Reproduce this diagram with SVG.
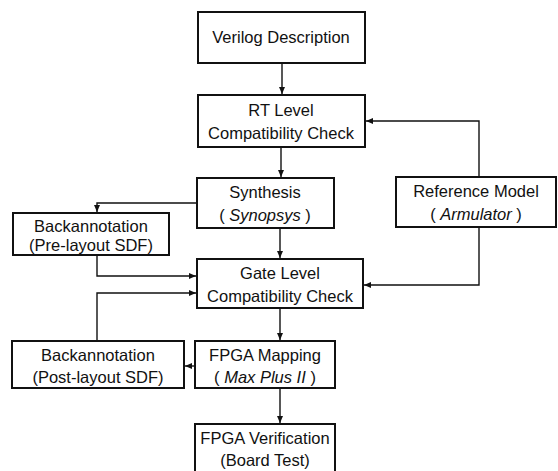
<svg xmlns="http://www.w3.org/2000/svg" width="558" height="471" viewBox="0 0 558 471">
<style>
.box{fill:#fff;stroke:#111;stroke-width:2}
.t{font-family:"Liberation Sans",Arial,sans-serif;font-size:16.5px;fill:#111;text-anchor:middle}
.i{font-style:italic}
.c{fill:none;stroke:#111;stroke-width:1.4}
</style>
<defs>
<marker id="a" markerWidth="8" markerHeight="8" refX="7" refY="4" orient="auto" markerUnits="userSpaceOnUse">
<path d="M0,1 L7,4 L0,7 Z" fill="#111"/>
</marker>
</defs>
<rect width="558" height="471" fill="#fff"/>
<g id="connectors">
<path class="c" d="M282,63 V94" marker-end="url(#a)"/>
<path class="c" d="M281,147 V177" marker-end="url(#a)"/>
<path class="c" d="M197,203 H97 V212" marker-end="url(#a)"/>
<path class="c" d="M280,228 V258" marker-end="url(#a)"/>
<path class="c" d="M97,255 V276 H196" marker-end="url(#a)"/>
<path class="c" d="M97,341 V293 H196" marker-end="url(#a)"/>
<path class="c" d="M479,177 V121 H366" marker-end="url(#a)"/>
<path class="c" d="M479,227 V285 H364" marker-end="url(#a)"/>
<path class="c" d="M280,308 V340" marker-end="url(#a)"/>
<path class="c" d="M195,366 H185" marker-end="url(#a)"/>
<path class="c" d="M280,388 V423" marker-end="url(#a)"/>
</g>
<g id="verilog">
<rect class="box" x="198" y="12" width="167" height="51"/>
<text class="t" x="281" y="43">Verilog Description</text>
</g>
<g id="rt">
<rect class="box" x="198" y="95" width="167" height="52"/>
<text class="t" x="281" y="116">RT Level</text>
<text class="t" x="281" y="139">Compatibility Check</text>
</g>
<g id="synthesis">
<rect class="box" x="197" y="178" width="137" height="50"/>
<text class="t" x="265" y="198">Synthesis</text>
<text class="t" x="265" y="221">( <tspan class="i">Synopsys</tspan> )</text>
</g>
<g id="pre">
<rect class="box" x="13" y="213" width="156" height="42"/>
<text class="t" x="91" y="232">Backannotation</text>
<text class="t" x="91" y="251">(Pre-layout SDF)</text>
</g>
<g id="gate">
<rect class="box" x="197" y="259" width="166" height="49"/>
<text class="t" x="280" y="279">Gate Level</text>
<text class="t" x="280" y="302">Compatibility Check</text>
</g>
<g id="reference">
<rect class="box" x="396" y="177" width="160" height="50"/>
<text class="t" x="476" y="197">Reference Model</text>
<text class="t" x="476" y="220">( <tspan class="i">Armulator</tspan> )</text>
</g>
<g id="post">
<rect class="box" x="12" y="341" width="172" height="47"/>
<text class="t" x="98" y="361">Backannotation</text>
<text class="t" x="98" y="383">(Post-layout SDF)</text>
</g>
<g id="mapping">
<rect class="box" x="195" y="341" width="140" height="47"/>
<text class="t" x="265" y="361">FPGA Mapping</text>
<text class="t" x="265" y="383">( <tspan class="i">Max Plus II</tspan> )</text>
</g>
<g id="verification">
<rect class="box" x="195" y="424" width="140" height="52"/>
<text class="t" x="265" y="444">FPGA Verification</text>
<text class="t" x="265" y="466">(Board Test)</text>
</g>
</svg>
